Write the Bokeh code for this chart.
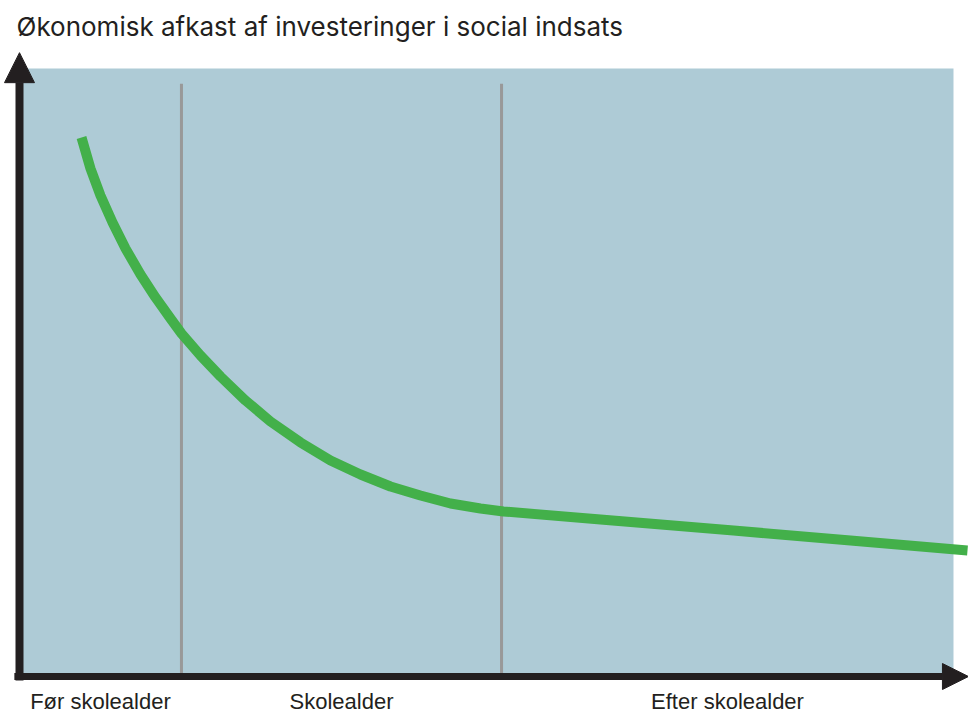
from bokeh.plotting import figure
from bokeh.models import Range1d, Arrow, NormalHead, Label, LabelSet, ColumnDataSource
from bokeh.core.properties import value
from bokeh.embed import file_html
from bokeh.resources import INLINE

# ---- data (abstract units: x = life phase 0..100, y = economic return 0..100) ----
curve_x = [6.64, 7.60, 8.67, 9.96, 11.35, 12.96, 14.56, 16.17, 17.34, 19.38, 21.52,
           24.20, 26.87, 30.09, 33.30, 36.51, 39.72, 42.93, 46.15, 49.36, 51.82,
           62.21, 76.45, 88.97, 101.5]
curve_y = [88.65, 83.55, 79.11, 74.67, 70.39, 66.12, 62.34, 58.88, 56.41, 52.80, 49.34,
           45.39, 41.94, 38.49, 35.53, 33.22, 31.25, 29.77, 28.45, 27.63, 27.14,
           25.82, 24.01, 22.37, 20.72]
phase_bounds = [0, 17.34, 51.61, 100]
phase_labels = ["Før skolealder", "Skolealder", "Efter skolealder"]
title_text = "Økonomisk afkast af investeringer i social indsats"

BG = "#AECBD6"
GREEN = "#43B04A"
GREY = "#999999"
BLACK = "#231F20"

p = figure(width=968, height=715, output_backend="svg", toolbar_location=None,
           x_range=Range1d(-2.034, 101.606), y_range=Range1d(-6.414, 111.18),
           x_axis_location=None, y_axis_location=None, min_border=0,
           background_fill_color="white", border_fill_color="white")
p.outline_line_color = None
p.grid.visible = False

# background panel
p.quad(left=[phase_bounds[0]], right=[phase_bounds[-1]], bottom=[0], top=[100],
       fill_color=BG, line_color=None)

# phase separators
inner = phase_bounds[1:-1]
p.segment(x0=inner, y0=[0] * len(inner), x1=inner, y1=[97.5] * len(inner),
          line_color=GREY, line_width=3)

# return curve
p.line(curve_x, curve_y, line_color=GREEN, line_width=10, line_cap="butt", line_join="round")

# axes with arrows
p.add_layout(Arrow(end=NormalHead(size=30, fill_color=BLACK, line_color=BLACK),
                   x_start=0, y_start=-0.66, x_end=0, y_end=102.6,
                   line_color=BLACK, line_width=8))
p.add_layout(Arrow(end=NormalHead(size=26, fill_color=BLACK, line_color=BLACK),
                   x_start=-0.55, y_start=0, x_end=101.6, y_end=0,
                   line_color=BLACK, line_width=7))

# phase labels under the x axis
mids = [(a + b) / 2 for a, b in zip(phase_bounds[:-1], phase_bounds[1:])]
src = ColumnDataSource(dict(x=mids, y=[-5.3] * len(mids), text=phase_labels))
p.add_layout(LabelSet(x="x", y="y", text="text", source=src,
                      text_font=value("Liberation Sans"), text_font_size=value("22px"),
                      text_color=BLACK, text_align="center", text_baseline="alphabetic"))

# title
p.add_layout(Label(x=-0.32, y=106.9, text=title_text, text_font="Inter",
                   text_font_size="26px", text_color=BLACK, text_baseline="alphabetic"))

open("out.html", "w").write(file_html(p, INLINE))
